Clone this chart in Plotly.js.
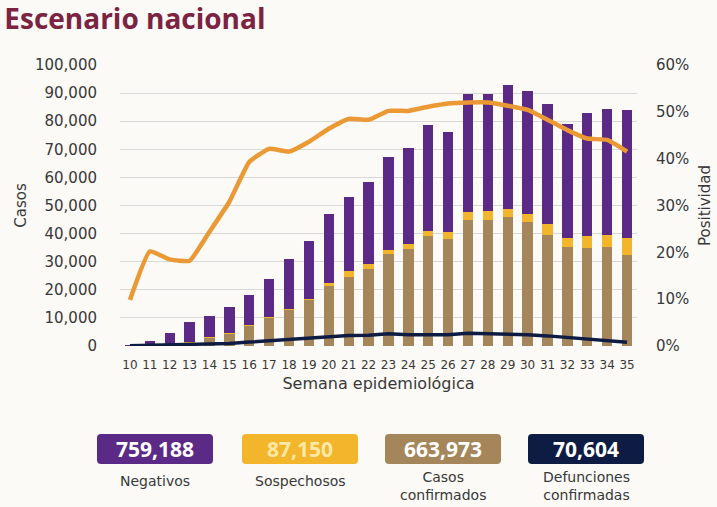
<!DOCTYPE html>
<html>
<head>
<meta charset="utf-8">
<script src="https://cdn.plot.ly/plotly-3.0.1.min.js"></script>
<style>
html,body{margin:0;padding:0;background:#fbfaf7;}
#chart{width:717px;height:507px;}
</style>
</head>
<body>
<div id="chart"></div>
<script>
const weeks = ['10','11','12','13','14','15','16','17','18','19','20','21','22','23','24','25','26','27','28','29','30','31','32','33','34','35'];
const confirmados = [50,200,500,1100,2900,4300,7100,9900,12900,16300,21400,24600,27400,32700,34400,39100,38000,44700,44700,46000,44300,39400,35200,34800,35200,32300];
const sospechosos = [10,50,100,150,150,200,250,300,350,600,900,2100,1700,1600,1900,1900,2400,2900,3200,2900,2800,3900,3300,4200,4300,6300];
const negativos = [300,1550,4150,7300,7750,9500,10950,13700,17850,20500,24600,26500,29300,32900,34200,37700,35600,42100,41800,44100,43500,42800,40600,43800,44800,45400];
const defunciones = [100,200,300,400,600,900,1400,1900,2250,2700,3200,3700,3800,4400,4000,4000,4000,4500,4400,4300,4000,3600,3000,2500,2000,1300];
const positividad = [0.098,0.202,0.185,0.182,0.244,0.308,0.393,0.421,0.415,0.436,0.464,0.485,0.483,0.502,0.502,0.511,0.518,0.520,0.520,0.513,0.504,0.483,0.461,0.443,0.440,0.415];

const boxValues = ['759,188','87,150','663,973','70,604'];
const boxLabels = ['Negativos','Sospechosos','Casos<br>confirmados','Defunciones<br>confirmadas'];
const boxColors = ['#5b2a86','#f3b52c','#a5855a','#0e1c44'];
const boxTextColors = ['#ffffff','#fde9a6','#ffffff','#ffffff'];

const FONT = 'DejaVu Sans, sans-serif';
const BFONT = 'Open Sans, sans-serif';
const TXT = '#383838';

// plot area in pixels
const L = 120, R = 637, T = 65, B = 346;
const W = 717, H = 507;
const px = x => (x - L) / (R - L);
const py = y => (B - y) / (B - T);

const traces = [
  {type:'bar', x:weeks, y:confirmados, name:'Casos confirmados', marker:{color:'#a5855a'}, hoverinfo:'y'},
  {type:'bar', x:weeks, y:sospechosos, name:'Sospechosos', marker:{color:'#f3b52c'}, hoverinfo:'y'},
  {type:'bar', x:weeks, y:negativos, name:'Negativos', marker:{color:'#5b2a86'}, hoverinfo:'y'},
  {type:'scatter', mode:'lines', x:weeks, y:defunciones, name:'Defunciones', line:{color:'#0e1c44', width:3.5}},
  {type:'scatter', mode:'lines', x:weeks, y:positividad, name:'Positividad', yaxis:'y2', line:{color:'#eb9935', width:4.5, shape:'spline', smoothing:0.4}}
];

const shapes = [];
const annotations = [];
const boxX = [[97,213],[242,358],[385,501],[528,644]];
const bTop = 434, bBot = 464, r = 4;
boxX.forEach((bx, i) => {
  const x0 = px(bx[0]), x1 = px(bx[1]);
  const y0 = py(bBot), y1 = py(bTop);
  const rx = r / (R - L), ry = r / (B - T);
  const path = `M ${x0+rx},${y1} L ${x1-rx},${y1} Q ${x1},${y1} ${x1},${y1-ry} L ${x1},${y0+ry} Q ${x1},${y0} ${x1-rx},${y0} L ${x0+rx},${y0} Q ${x0},${y0} ${x0},${y0+ry} L ${x0},${y1-ry} Q ${x0},${y1} ${x0+rx},${y1} Z`;
  shapes.push({type:'path', xref:'paper', yref:'paper', path:path, fillcolor:boxColors[i], line:{width:0}, layer:'above'});
  annotations.push({xref:'paper', yref:'paper', x:px((bx[0]+bx[1])/2), y:py(449), xanchor:'center', yanchor:'middle', showarrow:false,
    text:'<b>'+boxValues[i]+'</b>', font:{family:BFONT, size:21, color:boxTextColors[i]}});
  const multi = boxLabels[i].indexOf('<br>') >= 0;
  annotations.push({xref:'paper', yref:'paper', x:px((bx[0]+bx[1])/2), y:py(multi ? 486 : 481), xanchor:'center', yanchor:'middle', showarrow:false,
    text:boxLabels[i], font:{family:FONT, size:14, color:TXT}});
});

const layout = {
  width:W, height:H,
  margin:{l:L, r:W-R, t:T, b:H-B, pad:0},
  paper_bgcolor:'#fbfaf7', plot_bgcolor:'rgba(0,0,0,0)',
  barmode:'stack', bargap:0.48,
  showlegend:false,
  font:{family:FONT, color:TXT},
  title:{text:'<b>Escenario nacional</b>', x:0.006, xanchor:'left', xref:'container', y:1-19/H, yanchor:'middle', yref:'container',
    font:{family:BFONT, size:28, color:'#7b2340'}},
  xaxis:{type:'category', range:[-0.5,25.5], showgrid:false, zeroline:false, showline:false,
    ticks:'outside', ticklen:8, tickcolor:'rgba(0,0,0,0)', tickfont:{size:12, color:TXT},
    title:{text:'Semana epidemiológica', font:{size:16, color:TXT}, standoff:6}},
  yaxis:{range:[0,100000], dtick:10000, tickformat:',d', showgrid:true, gridcolor:'#d8d8d8', gridwidth:1,
    zeroline:false, showline:false, ticks:'outside', ticklen:19, tickcolor:'rgba(0,0,0,0)',
    tickfont:{size:15, color:TXT},
    title:{text:'Casos', font:{size:15, color:TXT}, standoff:4}},
  yaxis2:{overlaying:'y', side:'right', range:[0,0.6], dtick:0.1, tickformat:'.0%', showgrid:false, zeroline:false, showline:false,
    ticks:'outside', ticklen:15, tickcolor:'rgba(0,0,0,0)', tickfont:{size:15, color:TXT},
    title:{text:'Positividad', font:{size:15, color:TXT}, standoff:11}},
  shapes:shapes,
  annotations:annotations
};

Plotly.newPlot('chart', traces, layout, {displayModeBar:false, staticPlot:true});
</script>
</body>
</html>
